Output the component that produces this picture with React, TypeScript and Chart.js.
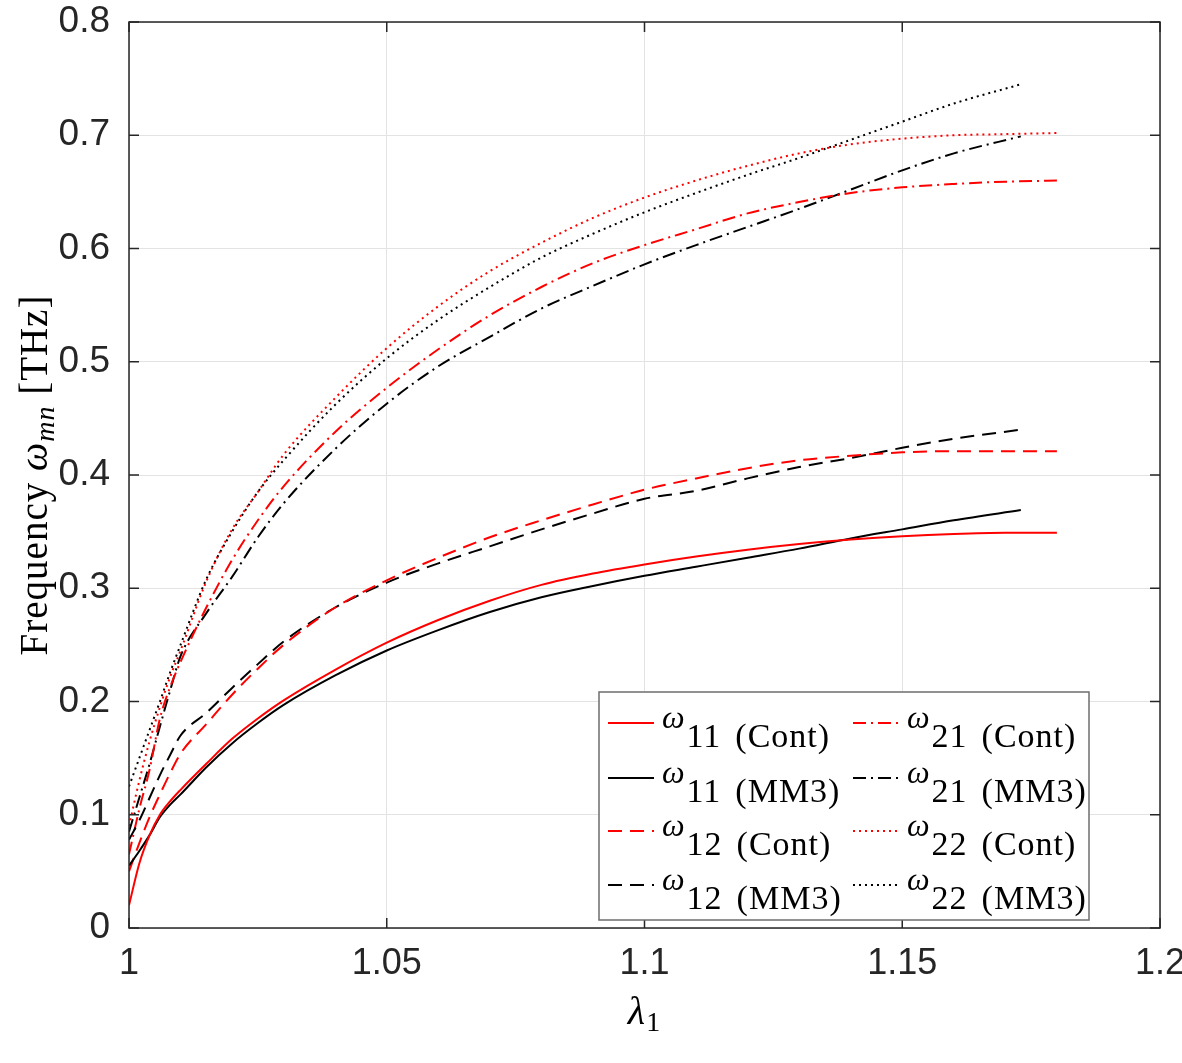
import React, { useEffect, useRef } from "react";
import { Chart, registerables } from "chart.js";

Chart.register(...registerables);

// ---- data ----
const lambdaCont = [1.0, 1.002, 1.004, 1.006, 1.008, 1.01, 1.015, 1.02, 1.025, 1.03, 1.04, 1.05, 1.06, 1.07, 1.08, 1.09, 1.1, 1.11, 1.12, 1.13, 1.14, 1.15, 1.16, 1.17, 1.18];
const lambdaMM3 = [1.0, 1.002, 1.004, 1.006, 1.008, 1.01, 1.015, 1.02, 1.025, 1.03, 1.04, 1.05, 1.06, 1.07, 1.08, 1.09, 1.1, 1.11, 1.12, 1.13, 1.14, 1.15, 1.16, 1.173];

const w11Cont = [0.02, 0.057, 0.082, 0.1, 0.112, 0.122, 0.145, 0.167, 0.185, 0.201, 0.228, 0.252, 0.272, 0.289, 0.303, 0.313, 0.321, 0.328, 0.334, 0.339, 0.343, 0.346, 0.348, 0.349, 0.349];
const w11MM3 = [0.055, 0.068, 0.082, 0.098, 0.109, 0.118, 0.142, 0.163, 0.181, 0.197, 0.223, 0.245, 0.263, 0.279, 0.292, 0.302, 0.311, 0.319, 0.327, 0.335, 0.344, 0.352, 0.36, 0.369];
const w12Cont = [0.05, 0.075, 0.098, 0.118, 0.137, 0.154, 0.18, 0.206, 0.229, 0.25, 0.283, 0.307, 0.327, 0.345, 0.36, 0.374, 0.387, 0.397, 0.406, 0.413, 0.417, 0.42, 0.421, 0.421, 0.421];
const w12MM3 = [0.078, 0.095, 0.115, 0.135, 0.153, 0.17, 0.19, 0.212, 0.233, 0.253, 0.283, 0.305, 0.322, 0.337, 0.352, 0.366, 0.379, 0.386, 0.397, 0.407, 0.415, 0.424, 0.432, 0.44];
const w21Cont = [0.065, 0.105, 0.14, 0.185, 0.213, 0.235, 0.283, 0.325, 0.36, 0.39, 0.438, 0.477, 0.511, 0.541, 0.566, 0.587, 0.603, 0.617, 0.631, 0.641, 0.649, 0.654, 0.657, 0.659, 0.66];
const w21MM3 = [0.085, 0.115, 0.145, 0.178, 0.21, 0.24, 0.278, 0.31, 0.345, 0.375, 0.423, 0.463, 0.496, 0.522, 0.547, 0.567, 0.586, 0.603, 0.619, 0.635, 0.652, 0.669, 0.684, 0.699];
const w22Cont = [0.09, 0.13, 0.165, 0.195, 0.222, 0.245, 0.306, 0.352, 0.385, 0.418, 0.468, 0.512, 0.549, 0.58, 0.605, 0.627, 0.645, 0.66, 0.673, 0.684, 0.692, 0.697, 0.7, 0.701, 0.702];
const w22MM3 = [0.125, 0.15, 0.175, 0.2, 0.226, 0.25, 0.308, 0.35, 0.385, 0.413, 0.462, 0.503, 0.537, 0.566, 0.592, 0.613, 0.632, 0.649, 0.665, 0.68, 0.696, 0.712, 0.728, 0.745];

const xTicks = [1, 1.05, 1.1, 1.15, 1.2];
const yTicks = [0, 0.1, 0.2, 0.3, 0.4, 0.5, 0.6, 0.7, 0.8];

const RED = "#ff0000";
const BLACK = "#000000";
const SOLID: number[] = [];
const DASH = [14, 8];
const DASHDOT = [13, 5, 2, 5];
const DOT = [2, 4];

type Series = { mode: string; tag: string; lam: number[]; vals: number[]; color: string; dash: number[] };
const seriesList: Series[] = [
  { mode: "11", tag: "(Cont)", lam: lambdaCont, vals: w11Cont, color: RED, dash: SOLID },
  { mode: "11", tag: "(MM3)", lam: lambdaMM3, vals: w11MM3, color: BLACK, dash: SOLID },
  { mode: "12", tag: "(Cont)", lam: lambdaCont, vals: w12Cont, color: RED, dash: DASH },
  { mode: "12", tag: "(MM3)", lam: lambdaMM3, vals: w12MM3, color: BLACK, dash: DASH },
  { mode: "21", tag: "(Cont)", lam: lambdaCont, vals: w21Cont, color: RED, dash: DASHDOT },
  { mode: "21", tag: "(MM3)", lam: lambdaMM3, vals: w21MM3, color: BLACK, dash: DASHDOT },
  { mode: "22", tag: "(Cont)", lam: lambdaCont, vals: w22Cont, color: RED, dash: DOT },
  { mode: "22", tag: "(MM3)", lam: lambdaMM3, vals: w22MM3, color: BLACK, dash: DOT },
];

const SERIF = '"Liberation Serif", "DejaVu Serif", serif';
const SANS = '"Liberation Sans", Arial, sans-serif';

const decorPlugin = {
  id: "decor",
  afterDatasetsDraw(chart: any) {
    const { ctx, chartArea: a, scales } = chart;
    ctx.save();
    ctx.strokeStyle = "#262626";
    ctx.lineWidth = 1.5;
    ctx.setLineDash([]);
    ctx.strokeRect(a.left, a.top, a.right - a.left, a.bottom - a.top);
    const tl = 10;
    ctx.beginPath();
    for (const v of xTicks) {
      const px = scales.x.getPixelForValue(v);
      ctx.moveTo(px, a.bottom); ctx.lineTo(px, a.bottom - tl);
      ctx.moveTo(px, a.top); ctx.lineTo(px, a.top + tl);
    }
    for (const v of yTicks) {
      const py = scales.y.getPixelForValue(v);
      ctx.moveTo(a.left, py); ctx.lineTo(a.left + tl, py);
      ctx.moveTo(a.right, py); ctx.lineTo(a.right - tl, py);
    }
    ctx.stroke();
    ctx.restore();
  },
  afterDraw(chart: any) {
    const { ctx, chartArea: a } = chart;
    ctx.save();
    ctx.fillStyle = "#000";
    ctx.textBaseline = "alphabetic";
    ctx.letterSpacing = "1px";

    // ---- legend ----
    const bx = a.right - 561, by = a.bottom - 236, bw = 490, bh = 228;
    ctx.fillStyle = "#ffffff";
    ctx.fillRect(bx, by, bw, bh);
    ctx.strokeStyle = "#6e6e6e";
    ctx.lineWidth = 1.5;
    ctx.strokeRect(bx, by, bw, bh);
    const rowY = [31, 86, 139, 193];
    const colX = [9, 254];
    const ds = chart.data.datasets;
    seriesList.forEach((s, i) => {
      const col = i < 4 ? 0 : 1;
      const row = i % 4;
      const lx = bx + colX[col];
      const ly = by + rowY[row];
      ctx.save();
      ctx.strokeStyle = ds[i].borderColor;
      ctx.lineWidth = 2;
      ctx.setLineDash(s.dash);
      ctx.beginPath();
      ctx.moveTo(lx, ly);
      ctx.lineTo(lx + 46, ly);
      ctx.stroke();
      ctx.restore();
      let tx = lx + 54;
      ctx.fillStyle = "#000";
      ctx.font = `italic 32px ${SERIF}`;
      ctx.fillText("\u03c9", tx, ly + 5);
      tx += ctx.measureText("\u03c9").width + 1;
      ctx.font = `34px ${SERIF}`;
      ctx.fillText(s.mode, tx, ly + 24);
      tx += ctx.measureText(s.mode).width + 14;
      ctx.fillText(s.tag, tx, ly + 24);
    });

    // ---- y axis title ----
    ctx.save();
    const cy = (a.top + a.bottom) / 2;
    ctx.translate(47, cy);
    ctx.rotate(-Math.PI / 2);
    const parts = [
      { t: "Frequency ", f: `39px ${SERIF}`, dy: 0 },
      { t: "\u03c9", f: `italic 40px ${SERIF}`, dy: 0 },
      { t: "mn", f: `italic 28px ${SERIF}`, dy: 7 },
      { t: " [THz]", f: `39px ${SERIF}`, dy: 0 },
    ];
    let total = 0;
    for (const p of parts) { ctx.font = p.f; total += ctx.measureText(p.t).width; }
    let x0 = -total / 2;
    for (const p of parts) {
      ctx.font = p.f;
      ctx.fillText(p.t, x0, p.dy);
      x0 += ctx.measureText(p.t).width;
    }
    ctx.restore();

    // ---- x axis title ----
    const cx = (a.left + a.right) / 2;
    ctx.font = `italic 40px ${SERIF}`;
    const lw = ctx.measureText("\u03bb").width;
    ctx.font = `28px ${SERIF}`;
    const sw = ctx.measureText("1").width;
    const sx = cx - (lw + sw) / 2;
    ctx.font = `italic 40px ${SERIF}`;
    ctx.fillText("\u03bb", sx, a.bottom + 96);
    ctx.font = `28px ${SERIF}`;
    ctx.fillText("1", sx + lw, a.bottom + 103);
    ctx.restore();
  },
};

export default function App() {
  const ref = useRef<HTMLCanvasElement | null>(null);
  useEffect(() => {
    if (!ref.current) return;
    const chart = new Chart(ref.current, {
      type: "line",
      data: {
        datasets: seriesList.map((s) => ({
          label: `\u03c9${s.mode} ${s.tag}`,
          data: s.lam.map((x, i) => ({ x, y: s.vals[i] })),
          borderColor: s.color,
          backgroundColor: s.color,
          borderWidth: 2,
          borderDash: s.dash,
          pointRadius: 0,
          fill: false,
          cubicInterpolationMode: "monotone" as const,
        })),
      },
      options: {
        animation: false,
        responsive: false,
        layout: { padding: { left: 0, right: 22, top: 22, bottom: 0 } },
        plugins: { legend: { display: false }, tooltip: { enabled: false } },
        scales: {
          x: {
            type: "linear",
            min: 1,
            max: 1.2,
            afterBuildTicks: (scale: any) => { scale.ticks = xTicks.map((v) => ({ value: v })); },
            afterFit: (scale: any) => {
              scale.height = 135;
              scale.paddingLeft = 0; scale.paddingRight = 0; scale.paddingTop = 0; scale.paddingBottom = 0;
            },
            ticks: {
              font: { family: SANS, size: 36 },
              color: "#262626",
              padding: 14,
              maxRotation: 0,
              callback: (v: any) => String(Number(Number(v).toFixed(2))),
            },
            grid: { color: "#e3e3e3", lineWidth: 1, drawTicks: false },
            border: { display: false },
          },
          y: {
            type: "linear",
            min: 0,
            max: 0.8,
            afterBuildTicks: (scale: any) => { scale.ticks = yTicks.map((v) => ({ value: v })); },
            afterFit: (scale: any) => {
              scale.width = 129;
              scale.paddingLeft = 0; scale.paddingRight = 0; scale.paddingTop = 0; scale.paddingBottom = 0;
            },
            ticks: {
              font: { family: SANS, size: 37 },
              color: "#262626",
              padding: 19,
              callback: (v: any) => String(Number(Number(v).toFixed(1))),
            },
            grid: { color: "#e3e3e3", lineWidth: 1, drawTicks: false },
            border: { display: false },
          },
        },
      },
      plugins: [decorPlugin],
    });
    return () => chart.destroy();
  }, []);
  return (
    <div style={{ position: "fixed", left: 0, top: 0, width: 1182, height: 1063, background: "#fff" }}>
      <canvas ref={ref} width={1182} height={1063} style={{ display: "block" }} />
    </div>
  );
}
